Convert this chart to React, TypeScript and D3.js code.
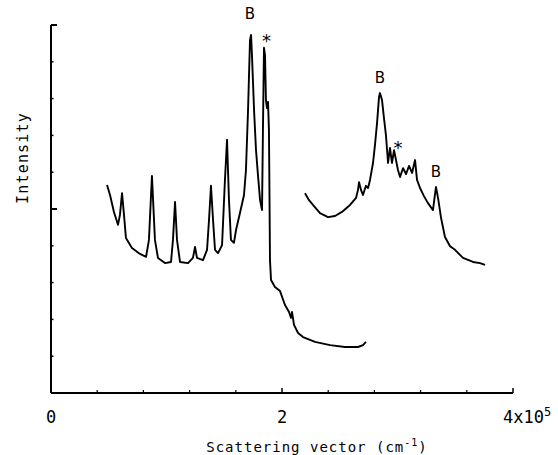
import React from "react";
import * as d3 from "d3";

// Scattering vector in units of 1e5 cm^-1, intensity in arbitrary units (0..10)
const lowQX = [0.485,0.511,0.545,0.58,0.597,0.615,0.632,0.649,0.701,0.771,0.823,0.848,0.874,0.9,0.926,0.987,1.039,1.056,1.074,1.091,1.117,1.186,1.229,1.247,1.264,1.316,1.351,1.368,1.385,1.403,1.42,1.446,1.481,1.506,1.524,1.541,1.558,1.584,1.602,1.636,1.671,1.688,1.706,1.723,1.732,1.74,1.758,1.775,1.792,1.81,1.827,1.835,1.844,1.853,1.861,1.87,1.879,1.887,1.892,1.896,1.905,1.939,1.983,2.026,2.061,2.078,2.087,2.104,2.139,2.182,2.286,2.416,2.545,2.658,2.701,2.727];
const lowQY = [5.65,5.38,4.92,4.57,4.84,5.43,4.84,4.21,3.94,3.78,3.7,4.16,5.9,4.16,3.67,3.53,3.56,4.16,5.19,4.16,3.56,3.53,3.67,3.97,3.67,3.61,3.89,4.7,5.63,4.7,3.89,3.8,4.02,5.79,6.88,5.24,4.16,4.08,4.43,4.89,5.38,6.06,7.69,9.59,9.73,9.18,7.69,6.6,5.92,5.24,4.97,7.15,9.38,9.18,7.96,7.74,7.91,7.15,5.24,3.61,3.07,2.88,2.77,2.39,2.2,2.04,2.2,1.85,1.63,1.52,1.39,1.3,1.25,1.25,1.3,1.39];

const highQX = [2.199,2.234,2.268,2.329,2.398,2.459,2.519,2.589,2.641,2.658,2.667,2.684,2.701,2.727,2.745,2.762,2.788,2.805,2.823,2.84,2.848,2.866,2.883,2.9,2.918,2.935,2.952,2.97,2.987,3.004,3.022,3.048,3.074,3.1,3.126,3.152,3.169,3.195,3.229,3.264,3.307,3.333,3.351,3.377,3.411,3.455,3.498,3.567,3.654,3.714,3.758];
const highQY = [5.43,5.24,5.11,4.89,4.78,4.81,4.92,5.11,5.3,5.52,5.73,5.52,5.38,5.63,5.57,5.79,6.25,6.74,7.34,8.04,8.15,7.96,7.47,7.01,6.25,6.66,6.25,6.6,6.33,6.06,5.87,6.11,5.95,6.17,5.98,6.33,5.79,5.57,5.35,5.16,4.97,5.6,5.3,4.76,4.24,3.99,3.89,3.67,3.56,3.53,3.48];

const xMinorTicks = [0.4,0.8,1.2,1.6,2.4,2.8,3.2,3.6];
const xMajorTicks = [0, 2, 4];
const xTickLabels = ["0", "2", "4x10"];
const yMinorTicks = [1,2,3,4,6,7,8,9];
const yMajorTicks = [5, 10];

const peakLabelText = ["B", "*", "B", "*", "B"];
const peakLabelX = [1.723, 1.865, 2.848, 3.004, 3.333];
const peakLabelY = [10.3, 9.7, 8.56, 6.79, 6.0];

const FONT = "'DejaVu Sans Mono', monospace";
const LABEL_FONT = "'DejaVu Sans', sans-serif";

export default function App() {
  const W = 558, H = 455;
  const x = d3.scaleLinear().domain([0, 4]).range([51, 513]);
  const y = d3.scaleLinear().domain([0, 10]).range([393, 25]);

  const line = d3.line<[number, number]>()
    .x(d => x(d[0]))
    .y(d => y(d[1]))
    .curve(d3.curveLinear);

  const lowPts = lowQX.map((v, i) => [v, lowQY[i]] as [number, number]);
  const highPts = highQX.map((v, i) => [v, highQY[i]] as [number, number]);

  return (
    <div style={{ position: "fixed", left: 0, top: 0 }}>
      <svg width={W} height={H} style={{ display: "block", background: "#fff" }}>
        {/* axes */}
        <line x1={x(0)} x2={x(0)} y1={y(10)} y2={y(0)} stroke="#000" strokeWidth={2} />
        <line x1={x(0)} x2={x(4)} y1={y(0)} y2={y(0)} stroke="#000" strokeWidth={2} />
        {yMajorTicks.map(t => (
          <line key={"ym" + t} x1={x(0)} x2={x(0) + 6} y1={y(t)} y2={y(t)} stroke="#000" strokeWidth={2} />
        ))}
        {yMinorTicks.map(t => (
          <line key={"yn" + t} x1={x(0)} x2={x(0) + 2.5} y1={y(t)} y2={y(t)} stroke="#000" strokeWidth={1.5} />
        ))}
        {xMinorTicks.map(t => (
          <line key={"xn" + t} x1={x(t)} x2={x(t)} y1={y(0)} y2={y(0) - 3} stroke="#000" strokeWidth={1.2} />
        ))}
        {xMajorTicks.map(t => (
          <line key={"xm" + t} x1={x(t)} x2={x(t)} y1={y(0)} y2={y(0) - 5} stroke="#000" strokeWidth={1.5} />
        ))}
        {/* tick labels */}
        <text x={x(0)} y={423} textAnchor="middle" fontFamily={FONT} fontSize={17}>{xTickLabels[0]}</text>
        <text x={x(2)} y={423} textAnchor="middle" fontFamily={FONT} fontSize={17}>{xTickLabels[1]}</text>
        <text x={x(4) - 10} y={423} textAnchor="start" fontFamily={FONT} fontSize={17}>
          {xTickLabels[2]}<tspan dy={-7} fontSize={12}>5</tspan>
        </text>
        {/* axis titles */}
        <text x={317} y={452} textAnchor="middle" fontFamily={FONT} fontSize={14} letterSpacing={1}>
          Scattering vector (cm<tspan dy={-6} fontSize={10}>-1</tspan><tspan dy={6}>)</tspan>
        </text>
        <text transform="translate(28,158) rotate(-90)" textAnchor="middle" fontFamily={FONT} fontSize={15} letterSpacing={1.2}>
          Intensity
        </text>
        {/* spectra */}
        <path d={line(lowPts) || ""} fill="none" stroke="#000" strokeWidth={1.9} strokeLinejoin="round" />
        <path d={line(highPts) || ""} fill="none" stroke="#000" strokeWidth={1.9} strokeLinejoin="round" />
        {/* peak labels */}
        {peakLabelText.map((t, i) => (
          <text key={"pl" + i} x={x(peakLabelX[i])} y={y(peakLabelY[i])} textAnchor="middle"
            dominantBaseline="central" fontFamily={LABEL_FONT} fontSize={t === "*" ? 18 : 15}
            dy={t === "*" ? 4 : 0}>{t}</text>
        ))}
      </svg>
    </div>
  );
}
